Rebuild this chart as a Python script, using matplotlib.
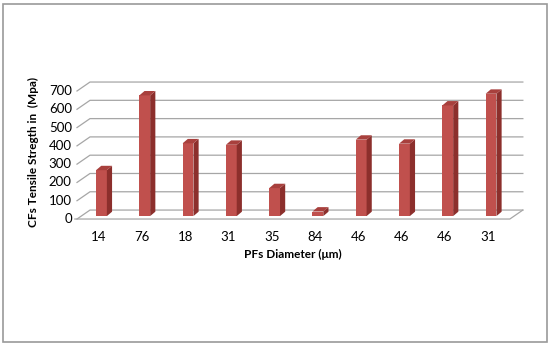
import numpy as np
import matplotlib
matplotlib.use("Agg")
import matplotlib.pyplot as plt
from matplotlib.patches import Polygon, Rectangle

plt.rcParams['font.family'] = ['Lato', 'DejaVu Sans']

diameters = ['14', '76', '18', '31', '35', '84', '46', '46', '46', '31']
strength = [251, 660, 398, 390, 153, 25, 418, 396, 605, 669]
y_ticks = [0, 100, 200, 300, 400, 500, 600, 700]

front_col = '#c0504d'
side_col = '#8c2f2c'
top_col = '#a8403d'
grid_col = '#a6a6a6'

fig = plt.figure(figsize=(5.5, 3.46), dpi=100)
# outer chart frame
fig.patches.append(Rectangle((0.006, 0.012), 0.988, 0.977, transform=fig.transFigure,
                             fill=False, edgecolor='#9a9a9a', linewidth=1.2))

ax = fig.add_axes([0.14, 0.367, 0.787, 0.37])
ax.set_xlim(-0.5, len(diameters) - 0.5)
ax.set_ylim(0, 700)
ax.axis('off')

# depth of the pseudo 3D box (x in category units, y in value units)
dx, dy = 0.30, 49
x0, x1 = -0.5, len(diameters) - 0.5

# back wall gridlines with slanted side-wall part
for v in y_ticks:
    ax.plot([x0, x0 + dx, x1 + dx], [v, v + dy, v + dy], color=grid_col,
            lw=0.9, clip_on=False, zorder=1)
    ax.text(x0 - 0.12, v, str(v), ha='right', va='center', fontsize=9.5, clip_on=False)
# floor front edge and right edge
ax.plot([x0 - 0.05, x1, x1 + dx], [0, 0, dy], color=grid_col, lw=0.9, clip_on=False, zorder=1)

# bars at mid depth
w = 0.25
bx = dx * 0.45
sx, sy = 0.12, 24
for i, (lab, val) in enumerate(zip(diameters, strength)):
    left = i - w / 2 + bx - 0.07
    b0 = 16
    top = b0 + val
    ax.bar(left, val, width=w, bottom=b0, align='edge', color=front_col,
           zorder=3, clip_on=False, linewidth=0)
    ax.add_patch(Polygon([(left + w, b0), (left + w + sx, b0 + sy), (left + w + sx, top + sy),
                          (left + w, top)], closed=True, color=side_col, zorder=3,
                         clip_on=False, lw=0))
    ax.add_patch(Polygon([(left, top), (left + w, top), (left + w + sx, top + sy),
                          (left + sx, top + sy)], closed=True, color=top_col, zorder=3,
                         clip_on=False, lw=0))
    ax.text(i, -100, lab, ha='center', va='center', fontsize=9.5, clip_on=False)

fig.text(0.533, 0.265, 'PFs Diameter (\u03bcm)', ha='center', va='center',
         fontsize=8.5, fontweight='bold')
fig.text(0.06, 0.56, 'CFs Tensile Stregth in  (Mpa)', ha='center', va='center',
         rotation=90, fontsize=8.5, fontweight='bold')

fig.savefig('out.png', dpi=100)
